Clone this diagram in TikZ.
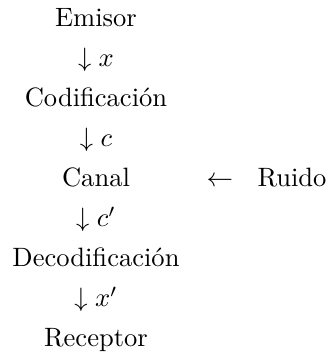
\documentclass[tikz,border=0pt]{standalone}
\usepackage{fix-cm}
\begin{document}
\begin{tikzpicture}[x=0.388pt,y=-0.388pt,
  lbl/.style={inner sep=0pt,anchor=base,font=\fontsize{10.3}{12.4}\selectfont}]
\useasboundingbox (0,0) rectangle (330,356);
% main column of the communication chain
\node[lbl] (emisor) at (96,26.7) {Emisor};
\node[lbl] (ax) at (96,66.7) {$\downarrow x$};
\node[lbl] (cod) at (96,106.7) {Codificación};
\node[lbl] (ac) at (96,146.7) {$\downarrow c$};
\node[lbl] (canal) at (96,186.7) {Canal};
\node[lbl] (acp) at (96,226.7) {$\downarrow c'$};
\node[lbl] (dec) at (96,266.7) {Decodificación};
\node[lbl] (axp) at (96,306.7) {$\downarrow x'$};
\node[lbl] (rec) at (96,346.7) {Receptor};
% noise source feeding the channel
\node[lbl] (al) at (220,186.7) {$\leftarrow$};
\node[lbl] (ruido) at (292,186.7) {Ruido};
\end{tikzpicture}
\end{document}
